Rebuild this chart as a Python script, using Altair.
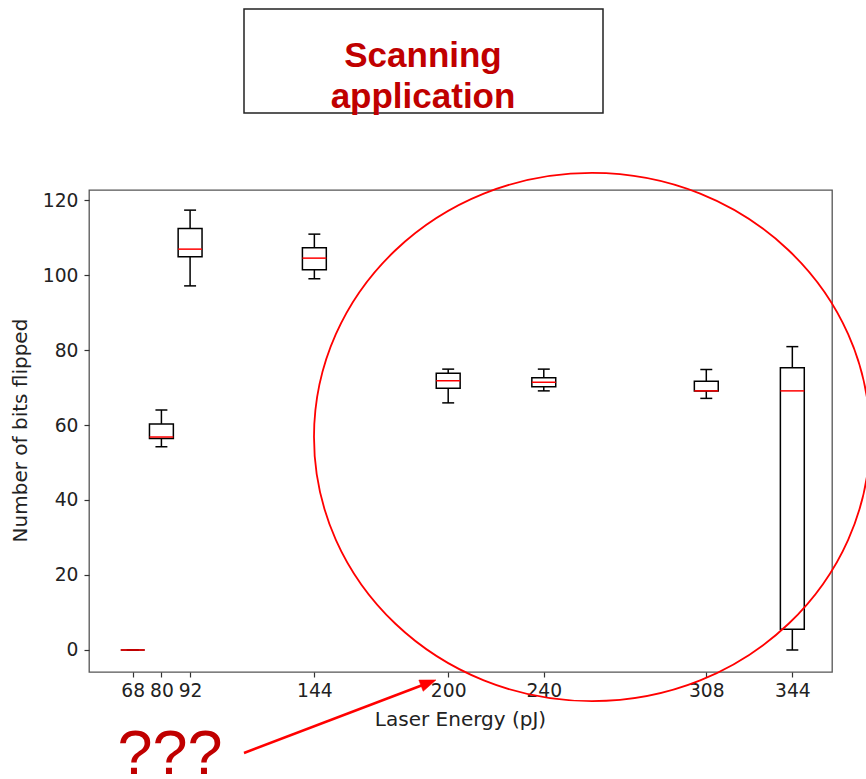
import altair as alt
import pandas as pd

# ---- data ----
energies = [68, 80, 92, 144, 200, 240, 308, 344]
whisker_low = [0, 54.2, 97.1, 99.0, 65.9, 69.1, 67.1, 0]
q1 = [0, 56.4, 104.9, 101.4, 69.8, 70.2, 69.1, 5.5]
medians = [0, 56.8, 106.9, 104.5, 71.8, 71.4, 69.1, 69.1]
q3 = [0, 60.3, 112.4, 107.3, 73.8, 72.6, 71.7, 75.3]
whisker_high = [0, 64.0, 117.3, 110.9, 74.9, 74.9, 74.8, 80.9]
y_ticks = [0, 20, 40, 60, 80, 100, 120]

BOX_W = 10
CAP_W = 5

df = pd.DataFrame({
    "pos": energies, "wlo": whisker_low, "q1": q1,
    "med": medians, "q3": q3, "whi": whisker_high,
})

FONT = "DejaVu Sans"
xscale = alt.Scale(domain=[49.7, 360.6], nice=False, zero=False)
yscale = alt.Scale(domain=[-5.87, 122.67], nice=False, zero=False)
xaxis = alt.Axis(values=energies, title="Laser Energy (pJ)", grid=False,
                 domain=False, tickSize=5, tickWidth=1.2, tickColor="#333",
                 labelFont=FONT, labelFontSize=18.7, labelColor="#222",
                 labelPadding=4, labelFlush=False, labelOverlap=False,
                 titleFont=FONT, titleFontSize=20, titleFontWeight="normal",
                 titleColor="#222", titleX=371, titleY=53,
                 titleBaseline="alphabetic", titleAlign="center")
yaxis = alt.Axis(values=y_ticks, title="Number of bits flipped", grid=False,
                 domain=False, tickSize=5, tickWidth=1.2, tickColor="#333",
                 labelFont=FONT, labelFontSize=18.7, labelColor="#222",
                 labelPadding=6, labelFlush=False,
                 titleFont=FONT, titleFontSize=20, titleFontWeight="normal",
                 titleColor="#222", titleX=-69, titleY=240, titleAngle=270,
                 titleAlign="center", titleBaseline="middle")


def X(f):
    return alt.X(f, type="quantitative", scale=xscale, axis=xaxis)


def Y(f):
    return alt.Y(f, type="quantitative", scale=yscale, axis=yaxis)


base = alt.Chart(df).transform_calculate(
    bl=f"datum.pos - {BOX_W/2}", br=f"datum.pos + {BOX_W/2}",
    cl=f"datum.pos - {CAP_W/2}", cr=f"datum.pos + {CAP_W/2}",
)

LW = 1.5
whisk_lo = base.mark_rule(color="black", strokeWidth=LW).encode(x=X("pos"), y=Y("wlo"), y2="q1")
whisk_hi = base.mark_rule(color="black", strokeWidth=LW).encode(x=X("pos"), y=Y("q3"), y2="whi")
cap_lo = base.mark_rule(color="black", strokeWidth=LW).encode(x=X("cl"), x2="cr", y=Y("wlo"))
cap_hi = base.mark_rule(color="black", strokeWidth=LW).encode(x=X("cl"), x2="cr", y=Y("whi"))
box = base.mark_rect(fillOpacity=0, stroke="black", strokeWidth=LW).encode(
    x=X("bl"), x2="br", y=Y("q1"), y2="q3")
med = base.mark_rule(color="red", strokeWidth=LW).encode(x=X("bl"), x2="br", y=Y("med"))

# ---- annotations (pixel positions relative to the plot area) ----
one = alt.Data(values=[{"k": 0}])
ellipse_path = ("M -1 0 C -1 -0.5247 -0.5523 -0.95 0 -0.95 "
                "C 0.5523 -0.95 1 -0.5247 1 0 "
                "C 1 0.5247 0.5523 0.95 0 0.95 "
                "C -0.5523 0.95 -1 0.5247 -1 0 Z")
ellipse = alt.Chart(one).mark_point(
    shape=ellipse_path, size=556 ** 2, filled=False, stroke="red",
    strokeWidth=1.8, opacity=1,
).encode(x=alt.value(503), y=alt.value(247))

arrow_line = alt.Chart(one).mark_rule(color="red", strokeWidth=2.5).encode(
    x=alt.value(155), y=alt.value(563), x2=alt.value(339), y2=alt.value(493))
arrow_head = alt.Chart(one).mark_point(
    shape="M 0 -1 L 0.75 1 L -0.75 1 Z", size=256, filled=True, fill="red",
    stroke="red", strokeWidth=0.5, opacity=1, angle=69,
).encode(x=alt.value(339.5), y=alt.value(492.8))

qmarks = alt.Chart(one).mark_text(
    text="???", font="Liberation Sans", fontSize=63, color="#C00000",
    align="center", baseline="alphabetic",
).encode(x=alt.value(81), y=alt.value(584))

title_box = alt.Chart(one).mark_rect(
    fill="white", stroke="#222", strokeWidth=1.5,
).encode(x=alt.value(155), x2=alt.value(514), y=alt.value(-181), y2=alt.value(-77))
title1 = alt.Chart(one).mark_text(
    text="Scanning", font="Liberation Sans", fontWeight="bold", fontSize=35,
    color="#C00000", align="center", baseline="alphabetic",
).encode(x=alt.value(334), y=alt.value(-123))
title2 = alt.Chart(one).mark_text(
    text="application", font="Liberation Sans", fontWeight="bold", fontSize=35,
    color="#C00000", align="center", baseline="alphabetic",
).encode(x=alt.value(334), y=alt.value(-82))

chart = alt.layer(
    whisk_lo, whisk_hi, cap_lo, cap_hi, box, med,
    ellipse, arrow_line, arrow_head, qmarks, title_box, title1, title2,
).properties(
    width=743, height=482,
    padding={"left": 89, "top": 190, "right": 34, "bottom": 107},
    autosize=alt.AutoSizeParams(type="none"),
    background="white",
).configure_view(stroke="#555", strokeWidth=1.3)

chart.save("out.html", embed_options={"renderer": "svg", "actions": False})
